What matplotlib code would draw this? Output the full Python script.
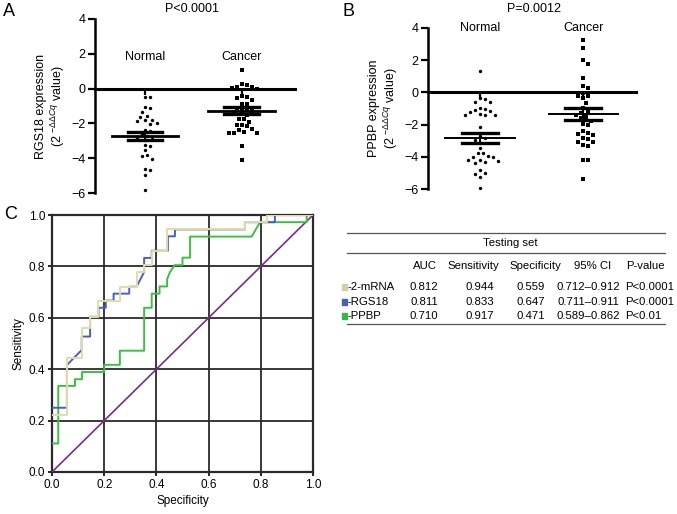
import numpy as np
import matplotlib
matplotlib.use("Agg")
import matplotlib.pyplot as plt
from matplotlib.lines import Line2D
from matplotlib.patches import Rectangle

plt.rcParams["font.family"] = ["Liberation Sans", "DejaVu Sans"]
plt.rcParams["mathtext.fontset"] = "custom"
plt.rcParams["mathtext.rm"] = "Liberation Sans"
plt.rcParams["mathtext.it"] = "Liberation Sans:italic"

W, H = 677, 514

# ---- panel A: RGS18 expression
groups = ["Normal", "Cancer"]
rgs18_normal = [-0.48, -0.50, -1.08, -1.12, -1.34, -1.57, -1.61, -1.78, -1.82, -1.86,
                -2.00, -2.03, -2.36, -2.45, -2.62, -2.70, -2.78, -2.86, -2.95, -3.24,
                -3.28, -3.55, -3.80, -3.86, -4.02, -4.62, -4.66, -4.98, -5.84]
rgs18_cancer = [1.05, 0.25, 0.20, 0.12, 0.08, 0.02, 0.00, -0.40, -0.50, -0.55,
                -0.65, -0.86, -0.90, -1.10, -1.15, -1.20, -1.30, -1.35, -1.45, -1.50,
                -1.72, -1.76, -1.90, -2.10, -2.12, -2.15, -2.34, -2.38, -2.50, -2.53,
                -2.55, -2.58, -3.30, -4.12]
rgs18_mean = [-2.72, -1.28]
rgs18_sem = [0.23, 0.20]

# ---- panel B: PPBP expression
ppbp_normal = [1.32, -0.37, -0.42, -0.58, -0.62, -0.98, -1.02, -1.12, -1.15, -1.20,
               -1.36, -1.38, -1.40, -1.42, -2.14, -2.70, -2.85, -2.95, -3.46, -3.74,
               -3.78, -3.98, -4.00, -4.04, -4.18, -4.20, -4.24, -4.33, -4.38, -4.83,
               -5.00, -5.06, -5.24, -5.96]
ppbp_cancer = [3.25, 2.77, 2.00, 1.74, 0.91, 0.41, 0.29, -0.02, -0.21, -0.25,
               -0.37, -0.68, -1.00, -1.20, -1.30, -1.40, -1.50, -1.62, -1.75, -1.99,
               -2.02, -2.40, -2.50, -2.58, -2.62, -2.86, -2.90, -3.05, -3.10, -3.27,
               -3.30, -4.20, -4.22, -5.40]
ppbp_mean = [-2.85, -1.35]
ppbp_sem = [0.30, 0.35]

# ---- panel C: ROC curves (step vertices)
mrna2_fpr = [0, 0.057, 0.057, 0.082, 0.114, 0.114, 0.146, 0.146, 0.178, 0.178, 0.259, 0.259,
             0.324, 0.324, 0.353, 0.353, 0.382, 0.382, 0.441, 0.441, 0.739, 0.739,
             0.825, 0.825, 1.0]
mrna2_tpr = [0.222, 0.222, 0.444, 0.444, 0.444, 0.559, 0.559, 0.604, 0.604, 0.667, 0.667, 0.721,
             0.721, 0.778, 0.778, 0.806, 0.806, 0.861, 0.861, 0.944, 0.944, 0.972,
             0.972, 1.0, 1.0]
rgs18_fpr = [0, 0.057, 0.057, 0.114, 0.114, 0.146, 0.146, 0.178, 0.178, 0.206, 0.206,
             0.236, 0.236, 0.296, 0.296, 0.324, 0.353, 0.353, 0.382, 0.382, 0.444,
             0.444, 0.471, 0.471, 0.739, 0.739, 0.854, 0.854, 1.0]
rgs18_tpr = [0.25, 0.25, 0.416, 0.475, 0.527, 0.527, 0.604, 0.604, 0.639, 0.639, 0.667,
             0.667, 0.694, 0.694, 0.721, 0.721, 0.778, 0.833, 0.833, 0.861, 0.861,
             0.917, 0.917, 0.944, 0.944, 0.972, 0.972, 1.0, 1.0]
ppbp_fpr = [0, 0.024, 0.024, 0.088, 0.088, 0.115, 0.115, 0.200, 0.200, 0.260, 0.260,
            0.353, 0.353, 0.382, 0.382, 0.412, 0.412, 0.441, 0.441, 0.452, 0.470,
            0.500, 0.500, 0.529, 0.529, 0.765, 0.797, 0.976, 0.976, 1.0]
ppbp_tpr = [0.111, 0.111, 0.335, 0.335, 0.361, 0.361, 0.389, 0.389, 0.417, 0.417, 0.472,
            0.472, 0.639, 0.639, 0.694, 0.694, 0.722, 0.722, 0.750, 0.778, 0.805,
            0.805, 0.834, 0.834, 0.916, 0.916, 0.972, 0.972, 1.0, 1.0]

# ---- table
table_cols = ["AUC", "Sensitivity", "Specificity", "95% CI", "P-value"]
table_rows = ["-2-mRNA", "-RGS18", "-PPBP"]
table_auc = ["0.812", "0.811", "0.710"]
table_sens = ["0.944", "0.833", "0.917"]
table_spec = ["0.559", "0.647", "0.471"]
table_ci = ["0.712\u20130.912", "0.711\u20130.911", "0.589\u20130.862"]
table_p = ["P<0.0001", "P<0.0001", "P<0.01"]

C_MRNA = "#e3dca4"
C_RGS = "#4a5fc1"
C_PPBP = "#3cc043"
C_DIAG = "#7b2a8c"
SQ_COLORS = ["#d4d0a6", "#4a5fb5", "#38b449"]


def fx(x):
    return x / W


def fy(y):
    return 1 - y / H


def swarm(values, center, px_x, px_y, d=5.0):
    """deterministic beeswarm: place each dot at the nearest free horizontal slot"""
    vals = np.asarray(values, dtype=float)
    order = np.argsort(-vals)
    placed = []  # (x_px, y_px)
    xs = np.zeros(len(vals))
    cands = [0]
    for k in range(1, 12):
        cands += [k * 0.5 * d, -k * 0.5 * d]
    for i in order:
        y = vals[i] * px_y
        for c in cands:
            if all((c - px) ** 2 + (y - py) ** 2 >= d * d for px, py in placed):
                break
        placed.append((c, y))
        xs[i] = center + c / px_x
    return xs


def dot_panel(rect, normal, cancer, means, sems, centers, ylabel, label_y, thin_mean):
    ax = fig.add_axes(rect)
    ax.set_xlim(0, 3)
    ax.set_ylim(-6, 4)
    px_x = rect[2] * W / 3.0
    px_y = rect[3] * H / 10.0
    for s in ["top", "right"]:
        ax.spines[s].set_visible(False)
    ax.spines["left"].set_linewidth(1.8)
    ax.spines["left"].set_bounds(-6, 4)
    ax.spines["bottom"].set_position(("data", 0))
    ax.spines["bottom"].set_linewidth(2.2)
    ax.set_yticks([-6, -4, -2, 0, 2, 4])
    ax.set_yticklabels(["\u22126", "\u22124", "\u22122", "0", "2", "4"])
    ax.tick_params(axis="y", direction="out", length=5, width=1.6, labelsize=9, pad=2)
    ax.set_xticks(centers)
    ax.set_xticklabels([])
    ax.tick_params(axis="x", direction="out", length=4, width=1.6)

    ax.scatter(swarm(normal, centers[0], px_x, px_y), normal, s=6, marker="o",
               color="black", linewidths=0, zorder=3)
    ax.scatter(swarm(cancer, centers[1], px_x, px_y), cancer, s=6, marker="s",
               color="black", linewidths=0, zorder=3)
    for c, m, e in zip(centers, means, sems):
        ax.plot([c - 0.5, c + 0.5], [m, m], color="black",
                lw=1.4 if thin_mean else 2.0, zorder=4)
        ax.plot([c - 0.26, c + 0.26], [m + e, m + e], color="black", lw=2.4, zorder=4)
        ax.plot([c - 0.26, c + 0.26], [m - e, m - e], color="black", lw=2.4, zorder=4)
        ax.plot([c, c], [m - e, m + e], color="black", lw=1.5, zorder=4)
    for c, g in zip(centers, groups):
        ax.text(c, label_y, g, ha="center", va="center", fontsize=9)
    ax.set_ylabel(ylabel, fontsize=9, labelpad=3, linespacing=1.1)
    return ax


fig = plt.figure(figsize=(W / 100, H / 100), dpi=100)

# panel A
dot_panel([fx(95), fy(193), 200 / W, (193 - 19) / H], rgs18_normal, rgs18_cancer,
          rgs18_mean, rgs18_sem, [0.75, 2.2],
          "RGS18 expression\n(2 $^{-\\Delta\\Delta Cq}$ value)", 1.8, False)
fig.text(fx(3), fy(11), "A", fontsize=13, va="center")
fig.text(fx(192), fy(9), "P<0.0001", fontsize=9, ha="center", va="center")

# panel B
dot_panel([fx(428), fy(189), 208 / W, (189 - 28) / H], ppbp_normal, ppbp_cancer,
          ppbp_mean, ppbp_sem, [0.75, 2.24],
          "PPBP expression\n(2 $^{-\\Delta\\Delta Cq}$ value)", 4.0, True)
fig.text(fx(343), fy(11), "B", fontsize=13, va="center")
fig.text(fx(534), fy(9), "P=0.0012", fontsize=9, ha="center", va="center")

# panel C
axc = fig.add_axes([fx(52), fy(472), 261 / W, 257 / H])
axc.set_xlim(0, 1)
axc.set_ylim(0, 1)
ticks = [0.0, 0.2, 0.4, 0.6, 0.8, 1.0]
axc.set_xticks(ticks)
axc.set_yticks(ticks)
axc.set_xticklabels([f"{t:.1f}" for t in ticks])
axc.set_yticklabels([f"{t:.1f}" for t in ticks])
axc.tick_params(labelsize=8.5, length=3, width=1.2, pad=2)
axc.grid(True, color="#2a2a2a", lw=1.3)
axc.set_axisbelow(True)
for s in axc.spines.values():
    s.set_linewidth(1.6)
    s.set_color("#2a2a2a")
axc.plot([0, 1], [0, 1], color=C_DIAG, lw=1.2, zorder=3)
axc.plot(ppbp_fpr, ppbp_tpr, color=C_PPBP, lw=1.4, zorder=4)
axc.plot(rgs18_fpr, rgs18_tpr, color=C_RGS, lw=1.4, zorder=5)
axc.plot(mrna2_fpr, mrna2_tpr, color=C_MRNA, lw=1.4, zorder=6)
axc.set_xlabel("Specificity", fontsize=8.5, labelpad=3)
axc.set_ylabel("Sensitivity", fontsize=8.5, labelpad=3)
fig.text(fx(4), fy(214), "C", fontsize=13, va="center")

# table
tfs = 8.2
line_kw = dict(color="#555555", lw=0.9, transform=fig.transFigure)
for y in [233, 253, 324]:
    fig.add_artist(Line2D([fx(347), fx(665)], [fy(y), fy(y)], **line_kw))
fig.text(fx(510), fy(243), "Testing set", fontsize=tfs, ha="center", va="center")
col_x = [425, 473, 535, 593, 645]
for x, name in zip(col_x, table_cols):
    fig.text(fx(x), fy(266), name, fontsize=tfs, ha="center", va="center")
row_y = [287, 302, 316]
for i, y in enumerate(row_y):
    fig.add_artist(Rectangle((fx(342), fy(y + 3)), 5 / W, 6 / H, color=SQ_COLORS[i],
                             transform=fig.transFigure))
    fig.text(fx(348), fy(y), table_rows[i], fontsize=tfs, va="center")
    fig.text(fx(424), fy(y), table_auc[i], fontsize=tfs, ha="center", va="center")
    fig.text(fx(480), fy(y), table_sens[i], fontsize=tfs, ha="center", va="center")
    fig.text(fx(545), fy(y), table_spec[i], fontsize=tfs, ha="right", va="center")
    fig.text(fx(588), fy(y), table_ci[i], fontsize=tfs, ha="center", va="center")
    fig.text(fx(625), fy(y), table_p[i], fontsize=tfs, ha="left", va="center")

fig.savefig("out.png", dpi=100)
